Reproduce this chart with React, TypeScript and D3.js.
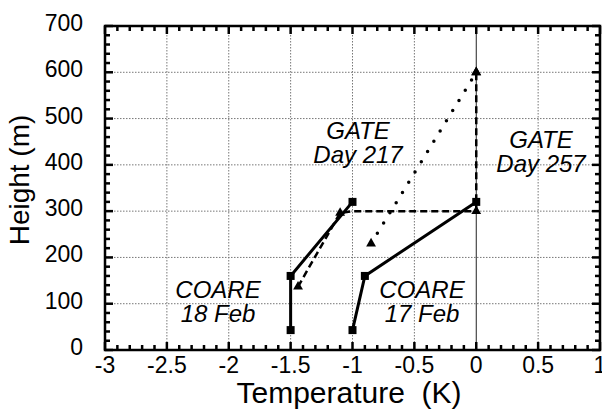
import React from "react";
import * as d3 from "d3";

const W = 602;
const H = 412;
const M = { left: 105, right: 600, top: 26, bottom: 350 };

const xTicks = [-3, -2.5, -2, -1.5, -1, -0.5, 0, 0.5, 1];
const yTicks = [0, 100, 200, 300, 400, 500, 600, 700];

// COARE 18 Feb (solid, squares)
const coare18T = [-1.5, -1.5, -1.0];
const coare18H = [43, 160, 320];
// COARE 17 Feb (solid, squares)
const coare17T = [-1.0, -0.9, 0];
const coare17H = [43, 160, 320];
// GATE Day 257 (dashed, triangles)
const gate257T = [-1.44, -1.1, -1.0, 0, 0];
const gate257H = [137, 296, 300, 300, 600];
const gate257Mark = [true, true, false, true, true];
// GATE Day 217 (dotted, triangles)
const gate217T = [-0.85, 0];
const gate217H = [230, 600];

const labels = [
  { lines: ["GATE", "Day 217"], x: 358, y: [139, 163] },
  { lines: ["GATE", "Day 257"], x: 541, y: [148, 172] },
  { lines: ["COARE", "18 Feb"], x: 218, y: [298, 322] },
  { lines: ["COARE", "17 Feb"], x: 422, y: [298, 322] },
];

export default function App() {
  const x = d3.scaleLinear().domain([-3, 1]).range([M.left, M.right]);
  const y = d3.scaleLinear().domain([0, 700]).range([M.bottom, M.top]);
  const line = d3
    .line<[number, number]>()
    .x((d) => x(d[0]))
    .y((d) => y(d[1]));

  const zip = (a: number[], b: number[]) => a.map((v, i) => [v, b[i]] as [number, number]);
  const c18 = zip(coare18T, coare18H);
  const c17 = zip(coare17T, coare17H);
  const g257 = zip(gate257T, gate257H);
  const g217 = zip(gate217T, gate217H);

  const xMinor = d3.range(-3, 1.0001, 0.1).map((v) => Math.round(v * 10) / 10);
  const yMinor = d3.range(0, 701, 20);

  const tri = d3.symbol().type(d3.symbolTriangle).size(42)();
  const sq = 8;
  const font = "'Liberation Sans', Arial, Helvetica, sans-serif";

  const isMajorX = (v: number) => Math.abs(v * 2 - Math.round(v * 2)) < 1e-6;

  return (
    <svg
      width={W}
      height={H}
      style={{ position: "fixed", left: 0, top: 0, background: "#fff" }}
      fontFamily={font}
    >
      <rect width={W} height={H} fill="#fff" />
      {/* grid */}
      {xTicks
        .filter((v) => v > -3 && v < 1 && v !== 0)
        .map((v) => (
          <line
            key={"gx" + v}
            x1={x(v)}
            x2={x(v)}
            y1={M.top}
            y2={M.bottom}
            stroke="#777"
            strokeWidth={1}
            strokeDasharray="1.5,1.5"
          />
        ))}
      {yTicks
        .filter((v) => v > 0 && v < 700)
        .map((v) => (
          <line
            key={"gy" + v}
            x1={M.left}
            x2={M.right}
            y1={y(v)}
            y2={y(v)}
            stroke="#777"
            strokeWidth={1}
            strokeDasharray="1.5,1.5"
          />
        ))}
      {/* zero line */}
      <line x1={x(0)} x2={x(0)} y1={M.top} y2={M.bottom} stroke="#222" strokeWidth={1} />

      {/* ticks */}
      {xMinor.map((v) => {
        const len = isMajorX(v) ? 8 : 5;
        return (
          <g key={"tx" + v}>
            <line x1={x(v)} x2={x(v)} y1={M.bottom} y2={M.bottom - len} stroke="#000" strokeWidth={2.5} />
            <line x1={x(v)} x2={x(v)} y1={M.top} y2={M.top + len} stroke="#000" strokeWidth={2.5} />
          </g>
        );
      })}
      {yMinor.map((v) => {
        const len = v % 100 === 0 ? 8 : 5;
        return (
          <g key={"ty" + v}>
            <line x1={M.left} x2={M.left + len} y1={y(v)} y2={y(v)} stroke="#000" strokeWidth={2.5} />
            <line x1={M.right} x2={M.right - len} y1={y(v)} y2={y(v)} stroke="#000" strokeWidth={2.5} />
          </g>
        );
      })}

      {/* frame */}
      <rect
        x={M.left}
        y={M.top}
        width={M.right - M.left}
        height={M.bottom - M.top}
        fill="none"
        stroke="#000"
        strokeWidth={2.5}
      />

      {/* series */}
      <path d={line(g217) || ""} fill="none" stroke="#000" strokeWidth={3.5} strokeLinecap="round" strokeDasharray="0,12" />
      <path d={line(g257) || ""} fill="none" stroke="#000" strokeWidth={2.5} strokeDasharray="7,4" />
      <path d={line(c18) || ""} fill="none" stroke="#000" strokeWidth={3} />
      <path d={line(c17) || ""} fill="none" stroke="#000" strokeWidth={3} />

      {g257.map((d, i) =>
        gate257Mark[i] ? (
          <path key={"m257" + i} d={tri || ""} transform={`translate(${x(d[0])},${y(d[1])})`} fill="#000" />
        ) : null
      )}
      {g217.map((d, i) => (
        <path key={"m217" + i} d={tri || ""} transform={`translate(${x(d[0])},${y(d[1])})`} fill="#000" />
      ))}
      {[...c18, ...c17].map((d, i) => (
        <rect key={"sq" + i} x={x(d[0]) - sq / 2} y={y(d[1]) - sq / 2} width={sq} height={sq} fill="#000" />
      ))}

      {/* annotations */}
      {labels.map((l, i) => (
        <g key={"lab" + i}>
          {l.lines.map((s, j) => (
            <text key={j} x={l.x} y={l.y[j]} textAnchor="middle" fontSize={24} fontStyle="italic" fill="#000">
              {s}
            </text>
          ))}
        </g>
      ))}

      {/* tick labels */}
      {xTicks.map((v) => (
        <text key={"xl" + v} x={x(v)} y={373} textAnchor="middle" fontSize={23} fill="#000">
          {String(v)}
        </text>
      ))}
      {yTicks.map((v) => (
        <text key={"yl" + v} x={83} y={y(v) + 5} textAnchor="end" fontSize={23} fill="#000">
          {String(v)}
        </text>
      ))}

      {/* axis titles */}
      <text x={349} y={403} textAnchor="middle" fontSize={30} fill="#000" style={{ whiteSpace: "pre" }}>
        {"Temperature  (K)"}
      </text>
      <text
        transform={`translate(29,${180}) rotate(-90)`}
        textAnchor="middle"
        fontSize={28}
        fill="#000"
      >
        Height (m)
      </text>
    </svg>
  );
}
